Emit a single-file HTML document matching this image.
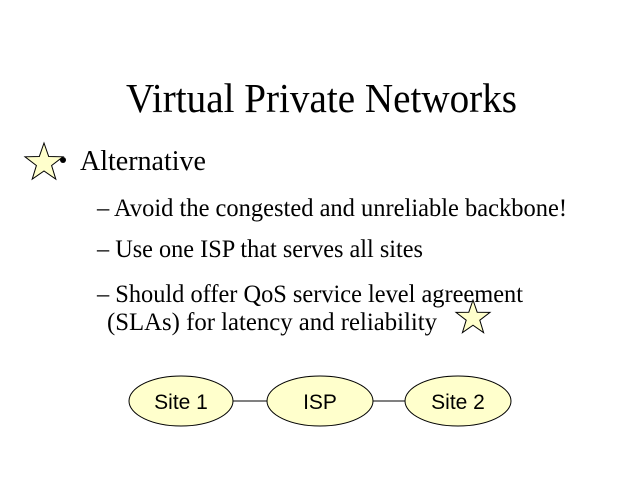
<!DOCTYPE html>
<html><head><style>html,body{margin:0;padding:0;background:#fff;}svg{display:block}</style></head>
<body>
<svg width="640" height="480" viewBox="0 0 640 480" xmlns="http://www.w3.org/2000/svg">
<rect width="640" height="480" fill="#fff"/>
<g font-family="Liberation Serif, serif" fill="#000">
<text x="126" y="112" font-size="41" textLength="391" lengthAdjust="spacingAndGlyphs">Virtual Private Networks</text>
<circle cx="63" cy="160" r="3"/>
<text x="80" y="170" font-size="28" textLength="126" lengthAdjust="spacingAndGlyphs">Alternative</text>
<text x="97" y="216" font-size="25" textLength="470" lengthAdjust="spacingAndGlyphs">– Avoid the congested and unreliable backbone!</text>
<text x="97" y="257" font-size="25" textLength="326" lengthAdjust="spacingAndGlyphs">– Use one ISP that serves all sites</text>
<text x="97" y="302" font-size="25" textLength="426" lengthAdjust="spacingAndGlyphs">– Should offer QoS service level agreement</text>
<text x="107" y="330" font-size="25" textLength="330" lengthAdjust="spacingAndGlyphs">(SLAs) for latency and reliability</text>
</g>
<g fill="#ffffcc" stroke="#000" stroke-width="1">
<polygon points="44,143 48.7,156.5 63,156.8 51.6,165.5 55.8,179.2 44,171 32.2,179.2 36.4,165.5 25,156.8 39.3,156.5"/>
<polygon points="473,300 477.2,312.2 490,312.4 479.8,320.2 483.6,332.6 473,325.2 462.4,332.6 466.2,320.2 456,312.4 468.8,312.2"/>
<line x1="233" y1="401" x2="267" y2="401"/>
<line x1="373" y1="401" x2="405" y2="401"/>
<ellipse cx="181" cy="401" rx="52" ry="25"/>
<ellipse cx="320" cy="401" rx="53" ry="25"/>
<ellipse cx="458" cy="401" rx="53" ry="25"/>
</g>
<g font-family="Liberation Sans, sans-serif" font-size="21" text-anchor="middle" fill="#000">
<text x="181" y="409">Site 1</text>
<text x="320" y="409">ISP</text>
<text x="458" y="409">Site 2</text>
</g>
</svg>
</body></html>
